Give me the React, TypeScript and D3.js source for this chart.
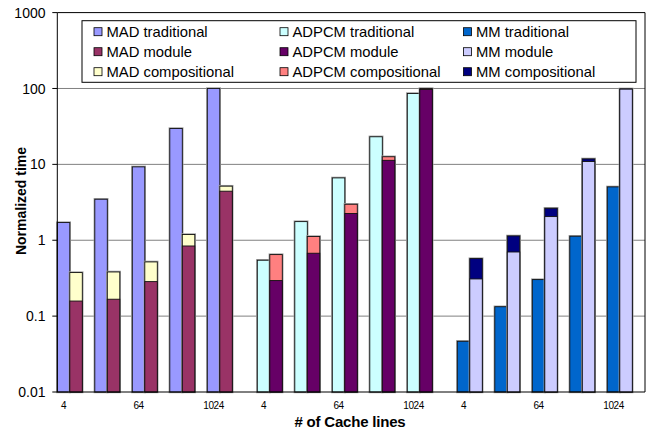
import React from 'react';
import * as d3 from 'd3';

// cache sizes (only every other one gets a tick label)
const sizes = ['4', '16', '64', '256', '1024'];
const shownLabels = ['4', '64', '1024'];
const benchmarks = ['MAD', 'ADPCM', 'MM'];
const yTicks = [0.01, 0.1, 1, 10, 100, 1000];

const madTraditional = [1.71, 3.47, 9.27, 29.7, 100];
const madModule = [0.158, 0.167, 0.285, 0.84, 4.43];
const madCompositional = [0.217, 0.215, 0.233, 0.35, 0.73];

const adpcmTraditional = [0.545, 1.76, 6.63, 23.1, 86];
const adpcmModule = [0.294, 0.674, 2.25, 11.3, 97];
const adpcmCompositional = [0.353, 0.446, 0.73, 1.3, 3];

const mmTraditional = [0.0466, 0.133, 0.303, 1.13, 5.05];
const mmModule = [0.309, 0.7, 2.05, 10.9, 98];
const mmCompositional = [0.264, 0.44, 0.59, 0.9, 0.8];

const series = [
  { name: 'MAD', trad: madTraditional, mod: madModule, comp: madCompositional, colors: ['#9999FF', '#993366', '#FFFFCC'] },
  { name: 'ADPCM', trad: adpcmTraditional, mod: adpcmModule, comp: adpcmCompositional, colors: ['#CCFFFF', '#660066', '#FF8080'] },
  { name: 'MM', trad: mmTraditional, mod: mmModule, comp: mmCompositional, colors: ['#0066CC', '#CCCCFF', '#000080'] },
];

const legendItems = [
  ['MAD traditional', 'MAD module', 'MAD compositional'],
  ['ADPCM traditional', 'ADPCM module', 'ADPCM compositional'],
  ['MM traditional', 'MM module', 'MM compositional'],
];

const font = '"Liberation Sans", Arial, sans-serif';

// bar with the soft grey halo Excel draws round it
const Bar = ({ x, y0, y1, w, fill }: { x: number; y0: number; y1: number; w: number; fill: string }) => (
  <g>
    <rect x={x} y={y1} width={w} height={y0 - y1} fill="none" stroke="#a0a0a0" strokeWidth={2.4} />
    <rect x={x} y={y1} width={w} height={y0 - y1} fill={fill} stroke="#111" strokeWidth={0.9} />
  </g>
);

const App = () => {
  const width = 646;
  const height = 432;
  const left = 57.3;
  const right = 645;
  const top = 12.6;
  const bottom = 392;

  const y = d3.scaleLog().domain([0.01, 1000]).range([bottom, top]);
  const groupX = d3.scaleBand().domain(benchmarks).range([left, left + 600]);
  const sizeX = d3.scaleBand().domain(sizes).range([0, 187.5]);
  const barX = d3.scaleBand().domain(['trad', 'mod']).range([0, sizeX.bandwidth() * 2 / 3]);
  const bw = barX.bandwidth();

  return (
    <svg width={width} height={height} style={{ position: 'absolute', left: 0, top: 0 }} fontFamily={font}>
      <rect width={width} height={height} fill="#fff" />
      {/* gridlines */}
      {yTicks.slice(1, -1).map(t => (
        <line key={t} x1={left} x2={right} y1={y(t)} y2={y(t)} stroke="#808080" strokeWidth={1} />
      ))}
      {/* bars */}
      {series.map(s => (
        <g key={s.name} transform={`translate(${groupX(s.name)},0)`}>
          {sizes.map((sz, i) => {
            const x0 = sizeX(sz)!;
            const t = s.trad[i];
            const m = s.mod[i];
            const c = s.comp[i];
            return (
              <g key={sz} transform={`translate(${x0},0)`}>
                <Bar x={barX('trad')!} y0={y(0.01)} y1={y(t)} w={bw} fill={s.colors[0]} />
                <Bar x={barX('mod')!} y0={y(0.01)} y1={y(m + c)} w={bw} fill={s.colors[2]} />
                <rect x={barX('mod')} y={y(m)} width={bw} height={y(0.01) - y(m)} fill={s.colors[1]} stroke="#111" strokeWidth={0.9} />
              </g>
            );
          })}
          {shownLabels.map(sz => (
            <text key={sz} x={sizeX(sz)! + barX('trad')! + bw / 2} y={409} fontSize={10} textAnchor="middle" letterSpacing={-0.4}>
              {sz}
            </text>
          ))}
        </g>
      ))}
      {/* frame */}
      <line x1={left} x2={right} y1={top} y2={top} stroke="#000" />
      <line x1={right} x2={right} y1={top} y2={bottom} stroke="#000" />
      <line x1={left} x2={right} y1={bottom} y2={bottom} stroke="#000" />
      <line x1={left} x2={left} y1={top} y2={bottom} stroke="#000" />
      {/* y axis ticks */}
      {yTicks.map(t => (
        <g key={t}>
          <line x1={left - 5} x2={left} y1={y(t)} y2={y(t)} stroke="#000" />
          <text x={45.5} y={y(t)} dy="0.36em" fontSize={14} textAnchor="end">
            {d3.format('~g')(t)}
          </text>
        </g>
      ))}
      <text transform={`translate(26,201) rotate(-90)`} fontSize={14} fontWeight="bold" textAnchor="middle">
        Normalized time
      </text>
      <text x={350} y={427} fontSize={15} fontWeight="bold" textAnchor="middle" letterSpacing={-0.2}>
        # of Cache lines
      </text>
      {/* legend */}
      <rect x={82} y={20.7} width={554} height={61.6} fill="#fff" stroke="#000" />
      {legendItems.map((col, ci) => (
        <g key={ci} transform={`translate(${[94, 280, 463.5][ci]},0)`}>
          {col.map((label, ri) => (
            <g key={label} transform={`translate(0,${31.7 + ri * 20})`}>
              <rect x={0} y={-4} width={8} height={8} fill={series[ci].colors[ri]} stroke="#000" strokeWidth={0.8} />
              <text x={12.5} y={0} dy="0.36em" fontSize={14.8}>
                {label}
              </text>
            </g>
          ))}
        </g>
      ))}
    </svg>
  );
};

export default App;
